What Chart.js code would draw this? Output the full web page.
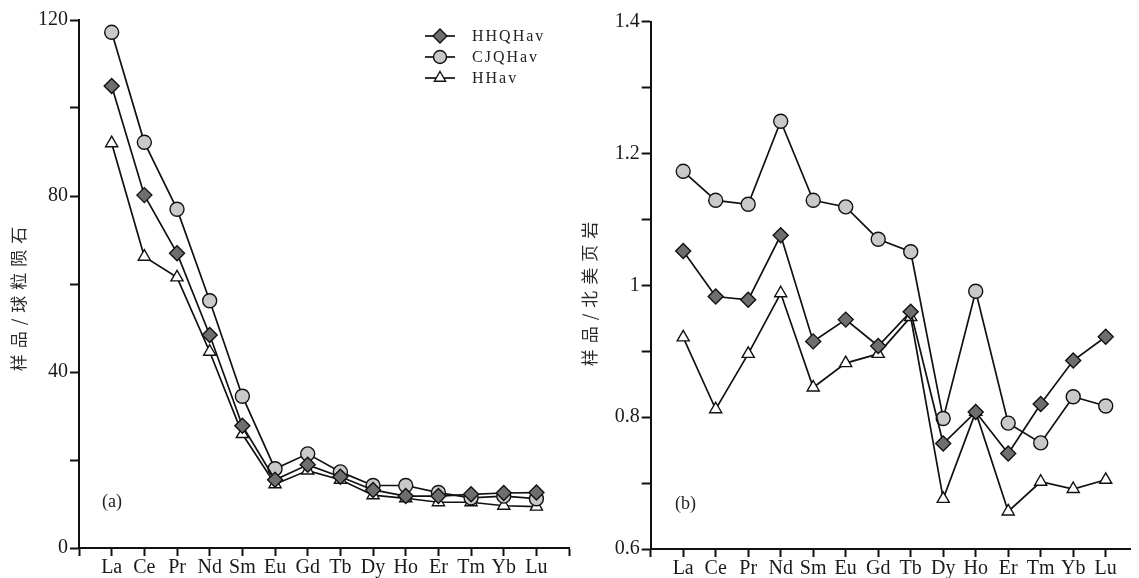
<!DOCTYPE html>
<html>
<head>
<meta charset="utf-8">
<script src="https://cdn.jsdelivr.net/npm/chart.js@4.4.1/dist/chart.umd.min.js"></script>
<style>
  body { margin: 0; background: #fff; }
  #wrap { position: relative; width: 1139px; height: 578px; overflow: hidden; }
  canvas { position: absolute; top: 0; }
  #left { left: 0; }
  #right { left: 578px; }
</style>
</head>
<body>
<div id="wrap">
  <canvas id="left" width="578" height="578"></canvas>
  <canvas id="right" width="561" height="578"></canvas>
</div>
<script>
// REE elements on the x axis
const elements = ['La', 'Ce', 'Pr', 'Nd', 'Sm', 'Eu', 'Gd', 'Tb', 'Dy', 'Ho', 'Er', 'Tm', 'Yb', 'Lu'];
const seriesNames = ['HHQHav', 'CJQHav', 'HHav'];

// (a) sample / chondrite
const chondHHQ = [105, 80.2, 67, 48.4, 27.8, 15.5, 18.9, 16.2, 13.2, 11.8, 11.8, 12.2, 12.5, 12.6];
const chondCJQ = [117.2, 92.2, 77, 56.2, 34.5, 18, 21.4, 17.3, 14.2, 14.2, 12.6, 11.4, 11.8, 11.2];
const chondHH = [92, 66.2, 61.5, 44.6, 25.9, 14.5, 17.6, 15.5, 12, 11.3, 10.4, 10.4, 9.6, 9.4];

// (b) sample / North American shale
const shaleHHQ = [1.052, 0.983, 0.978, 1.076, 0.915, 0.948, 0.908, 0.960, 0.760, 0.808, 0.745, 0.820, 0.886, 0.922];
const shaleCJQ = [1.173, 1.129, 1.123, 1.249, 1.129, 1.119, 1.070, 1.051, 0.798, 0.991, 0.791, 0.761, 0.831, 0.817];
const shaleHH = [0.921, 0.812, 0.896, 0.988, 0.845, 0.882, 0.896, 0.952, 0.676, 0.808, 0.657, 0.702, 0.691, 0.705];

const leftYLabels = [0, 40, 80, 120];
const rightYLabels = [0.6, 0.8, 1, 1.2, 1.4];

const serif = 'Liberation Serif, DejaVu Serif, serif';
const cjk = '"Noto Sans CJK SC", sans-serif';

function toPoints(values) {
    return values.map((v, i) => ({ x: i + 1, y: v }));
}

function makeDatasets(hhq, cjq, hh) {
    const base = { borderColor: '#111', borderWidth: 1.7, pointBorderColor: '#111', pointBorderWidth: 1.4, tension: 0 };
    return [
        { ...base, label: seriesNames[0], data: toPoints(hhq), pointStyle: 'rectRot', pointRadius: 7.5, pointBackgroundColor: '#6e6e6e' },
        { ...base, label: seriesNames[1], data: toPoints(cjq), pointStyle: 'circle', pointRadius: 7, pointBackgroundColor: '#c9c9c9' },
        { ...base, label: seriesNames[2], data: toPoints(hh), pointStyle: 'triangle', pointRadius: 7, pointBackgroundColor: '#fff' }
    ];
}

// legend inside the plot area: short line with the marker on it
const insideLegend = {
    id: 'insideLegend',
    afterDatasetsDraw(chart, args, opts) {
        if (!opts.show) return;
        const ctx = chart.ctx;
        chart.data.datasets.forEach((ds, i) => {
            const y = opts.y + i * opts.gap;
            ctx.save();
            ctx.strokeStyle = ds.borderColor;
            ctx.lineWidth = ds.borderWidth;
            ctx.beginPath();
            ctx.moveTo(opts.x - 15, y);
            ctx.lineTo(opts.x + 15, y);
            ctx.stroke();
            ctx.fillStyle = ds.pointBackgroundColor;
            ctx.strokeStyle = ds.pointBorderColor;
            ctx.lineWidth = ds.pointBorderWidth;
            Chart.helpers.drawPoint(ctx, { pointStyle: ds.pointStyle, radius: ds.pointRadius - 0.5, borderWidth: ds.pointBorderWidth, rotation: 0 }, opts.x, y);
            ctx.fillStyle = '#222';
            ctx.font = '16px ' + serif;
            ctx.letterSpacing = '2px';
            ctx.textBaseline = 'middle';
            ctx.fillText(ds.label, opts.x + 32, y + 1);
            ctx.restore();
        });
    }
};

// rotated y title and the (a)/(b) panel label
const panelText = {
    id: 'panelText',
    afterDraw(chart, args, opts) {
        const ctx = chart.ctx;
        ctx.save();
        ctx.fillStyle = '#2a2a2a';
        ctx.font = '17px ' + cjk;
        ctx.letterSpacing = '6px';
        ctx.textAlign = 'center';
        ctx.textBaseline = 'middle';
        ctx.translate(opts.titleX, opts.titleY);
        ctx.rotate(-Math.PI / 2);
        ctx.fillText(opts.title, 0, 0);
        ctx.restore();

        ctx.save();
        ctx.fillStyle = '#222';
        ctx.font = '18px ' + serif;
        ctx.textBaseline = 'middle';
        ctx.fillText(opts.label, opts.labelX, opts.labelY);
        ctx.restore();
    }
};

function makeChart(id, datasets, cfg) {
    return new Chart(document.getElementById(id), {
        type: 'line',
        data: { datasets },
        plugins: [insideLegend, panelText],
        options: {
            responsive: false,
            animation: false,
            layout: { padding: { top: cfg.top, right: cfg.padRight, left: 0, bottom: 0 } },
            scales: {
                x: {
                    type: 'linear',
                    min: 0,
                    max: cfg.xMax,
                    afterFit: s => { s.height = cfg.xHeight; },
                    border: { display: true, color: '#111', width: 2 },
                    grid: { display: true, drawOnChartArea: false, drawTicks: true, tickLength: 8, tickWidth: 2, tickColor: '#111' },
                    ticks: {
                        stepSize: 1,
                        autoSkip: false,
                        maxRotation: 0,
                        includeBounds: false,
                        padding: 0,
                        color: '#1a1a1a',
                        font: { family: serif, size: 20 },
                        callback: v => elements[v - 1] || ''
                    }
                },
                y: {
                    min: cfg.yMin,
                    max: cfg.yMax,
                    afterFit: s => { s.width = cfg.yWidth; },
                    border: { display: true, color: '#111', width: 2 },
                    grid: { display: true, drawOnChartArea: false, drawTicks: true, tickLength: 9, tickWidth: 2, tickColor: '#111' },
                    ticks: {
                        stepSize: cfg.yStep,
                        padding: 2,
                        color: '#1a1a1a',
                        font: { family: serif, size: 20 },
                        callback: v => {
                            const hit = cfg.yLabels.find(l => Math.abs(l - v) < 1e-6);
                            return hit === undefined ? '' : String(hit);
                        }
                    }
                }
            },
            plugins: {
                legend: { display: false },
                tooltip: { enabled: false },
                insideLegend: cfg.legend,
                panelText: cfg.text
            }
        }
    });
}

makeChart('left', makeDatasets(chondHHQ, chondCJQ, chondHH), {
    top: 20, padRight: 3, xMax: 15, xHeight: 30, yWidth: 79,
    yMin: 0, yMax: 120, yStep: 20, yLabels: leftYLabels,
    legend: { show: true, x: 440, y: 36, gap: 21 },
    text: { title: '样品/球粒陨石', titleX: 19, titleY: 296, label: '(a)', labelX: 102, labelY: 502 }
});

makeChart('right', makeDatasets(shaleHHQ, shaleCJQ, shaleHH), {
    top: 21.7, padRight: 0, xMax: 14.75, xHeight: 29, yWidth: 72.7,
    yMin: 0.6, yMax: 1.4, yStep: 0.1, yLabels: rightYLabels,
    legend: { show: false },
    text: { title: '样品/北美页岩', titleX: 12, titleY: 291, label: '(b)', labelX: 97, labelY: 504 }
});
</script>
</body>
</html>
